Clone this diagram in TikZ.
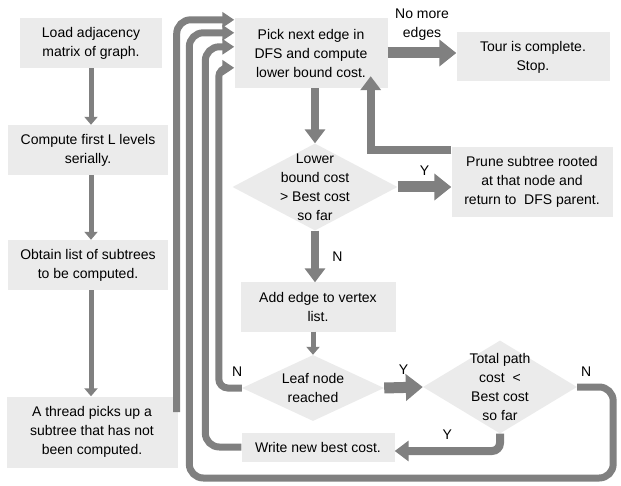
\documentclass[tikz,border=0pt]{standalone}
\usepackage{fontspec}
\setmainfont{Liberation Sans}
\usetikzlibrary{shapes.geometric,arrows.meta,calc,positioning}

\definecolor{boxgray}{RGB}{235,235,235}
\definecolor{arrowgray}{RGB}{128,128,128}

\begin{document}
\begin{tikzpicture}[x=1pt, y=-1pt,
        font=\fontsize{14}{19}\selectfont,
        box/.style = {fill=boxgray, align=center, inner sep=0pt},
        decision/.style = {diamond, fill=boxgray, inner sep=0pt},
        flow/.style = {draw=arrowgray, line width=5pt, -{Triangle[width=13pt,length=8pt]}},
        loopline/.style = {draw=arrowgray, line width=7pt, rounded corners=14pt, -{Triangle[width=15pt,length=12pt]}},
        midarrow/.style = {draw=arrowgray, line width=8pt, -{Triangle[width=20pt,length=14pt]}},
        bigarrow/.style = {draw=arrowgray, line width=11pt, -{Triangle[width=26pt,length=17pt]}}
        ]
        \useasboundingbox (0,0) rectangle (621,486);

        % left column
        \node[box, minimum width=142pt, minimum height=50pt] (load) at (91,43) {Load adjacency\\matrix of graph.};
        \node[box, minimum width=160pt, minimum height=50pt] (compute) at (88,150) {Compute first L levels\\serially.};
        \node[box, minimum width=160pt, minimum height=50pt] (obtain) at (88,265) {Obtain list of subtrees\\to be computed.};
        \node[box, minimum width=171pt, minimum height=71pt] (thread) at (92,432) {A thread picks up a\\subtree that has not\\been computed.};

        \draw[flow] (load.south) -- (load.south |- compute.north);
        \draw[flow] (load.south |- compute.south) -- (load.south |- obtain.north);
        \draw[flow] (load.south |- obtain.south) -- (load.south |- thread.north);

        % search part
        \node[box, minimum width=153pt, minimum height=70pt] (pick) at (311,53) {Pick next edge in\\DFS and compute\\lower bound cost.};
        \node[box, minimum width=153pt, minimum height=49pt] (tour) at (533,57) {Tour is complete.\\Stop.};
        \node[decision, minimum width=165pt, minimum height=87pt,
              label={[align=center, name=lowertext]center:Lower\\bound cost\\> Best cost\\so far}] (lower) at (315,187) {};
        \node[box, minimum width=161pt, minimum height=70pt] (prune) at (532,182) {Prune subtree rooted\\at that node and\\return to~ DFS parent.};
        \node[box, minimum width=155pt, minimum height=49pt] (add) at (318,307) {Add edge to vertex\\list.};
        \node[decision, minimum width=142pt, minimum height=66pt,
              label={[align=center, name=leaftext]center:Leaf node\\reached}] (leaf) at (313,388) {};
        \node[decision, minimum width=154pt, minimum height=93pt,
              label={[align=center, name=totaltext]center:Total path\\cost~ <\\Best cost\\so far}] (total) at (500,387) {};
        \node[box, minimum width=153pt, minimum height=29pt] (write) at (318,447) {Write new best cost.};

        \draw[bigarrow] (pick.east) -- node[midway, above=4pt, align=center] (nomore) {No more\\edges} (pick.east -| tour.west);
        \draw[midarrow] (lower.north |- pick.south) -- (lower.north);
        \draw[bigarrow] (lower.east) -- node[midway, above=3pt] (yprune) {Y} (lower.east -| prune.west);
        \draw[midarrow] ($(prune.north west)+(0,3)$) -| ($(pick.south east)+(-17,-12)$);
        \draw[midarrow] (lower.south) -- node[midway, right=10pt] (nadd) {N} (lower.south |- add.north);
        \draw[flow] (leaf.north |- add.south) -- (leaf.north);
        \draw[bigarrow] (leaf.east) -- node[midway, above=4pt] (yleaf) {Y} (total.west);
        \draw[midarrow, rounded corners=8pt] (total.south) |- node[pos=0.75, above=4pt] (ywrite) {Y} ($(write.east)+(0,4)$);

        % loops back to the top box
        \draw[loopline] ($(thread.east)+(-1,-20)$) |- ($(pick.north west)+(0,2)$);
        \draw[loopline] (total.east) -- node[pos=0.25, above=4pt] (ntotal) {N} ++(36,0) -- ++(0,91)
            -| ($(pick.north west)+(-45,15)$) -- ($(pick.north west)+(0,15)$);
        \draw[loopline] (write.west) -- ++(-36,0) |- ($(pick.north west)+(0,29)$);
        \draw[loopline, rounded corners=9pt] (leaf.west) -- node[pos=0.2, above=5pt] (nleaf) {N} ++(-23,0) |- ($(pick.north west)+(0,50)$);

    \end{tikzpicture}
\end{document}
